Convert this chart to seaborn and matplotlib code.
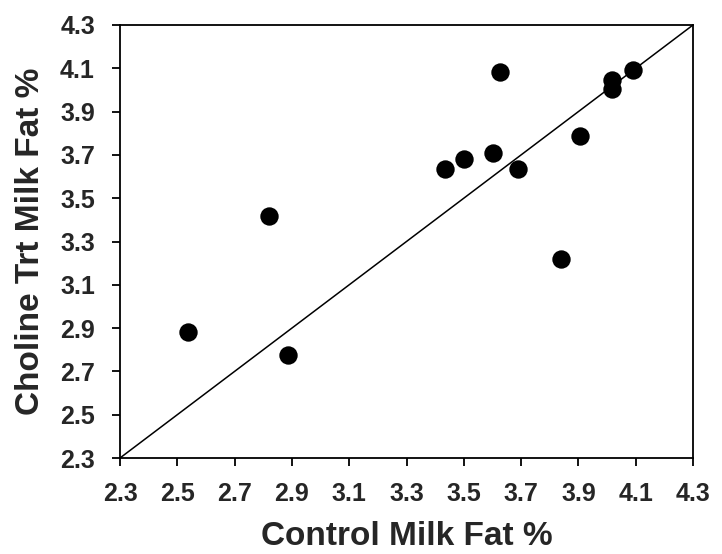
import matplotlib
matplotlib.use("Agg")
import matplotlib.pyplot as plt
import seaborn as sns
import pandas as pd
import numpy as np

control = [2.538, 2.819, 2.885, 3.434, 3.500, 3.601, 3.627, 3.690, 3.839, 3.907, 4.018, 4.018, 4.091]
choline = [2.882, 3.419, 2.778, 3.637, 3.681, 3.707, 4.084, 3.637, 3.217, 3.787, 4.046, 4.004, 4.092]
ticks = [2.3, 2.5, 2.7, 2.9, 3.1, 3.3, 3.5, 3.7, 3.9, 4.1, 4.3]

df = pd.DataFrame({"control": control, "choline": choline})

sns.set_style("ticks")
plt.rcParams['font.family'] = ['Liberation Sans', 'DejaVu Sans']
plt.rcParams['font.weight'] = 'bold'

fig = plt.figure(figsize=(7.22, 5.54), dpi=100)
ax = fig.add_axes([120/722, 1 - 458/554, 573/722, 433/554])

ax.plot([ticks[0], ticks[-1]], [ticks[0], ticks[-1]], color='black', lw=1.1, zorder=1)
sns.scatterplot(data=df, x="control", y="choline", ax=ax, color='black', s=175,
                edgecolor='black', linewidth=0, zorder=3, clip_on=False)

ax.set_xlim(ticks[0], ticks[-1])
ax.set_ylim(ticks[0], ticks[-1])
ax.set_xticks(ticks)
ax.set_yticks(ticks)
ax.set_xticklabels([f"{t:.1f}" for t in ticks], fontsize=18, fontweight='bold')
ax.set_yticklabels([f"{t:.1f}" for t in ticks], fontsize=18, fontweight='bold')
ax.tick_params(direction='out', length=6, width=1.3, color='black')
ax.tick_params(axis='x', pad=11)
ax.tick_params(axis='y', pad=12)
for sp in ax.spines.values():
    sp.set_visible(True)
    sp.set_linewidth(1.3)
    sp.set_color('black')

ax.set_xlabel("Control Milk Fat %", fontsize=24, fontweight='bold', labelpad=11)
ax.set_ylabel("Choline Trt Milk Fat %", fontsize=24, fontweight='bold', labelpad=10)

fig.savefig("out.png", dpi=100)
